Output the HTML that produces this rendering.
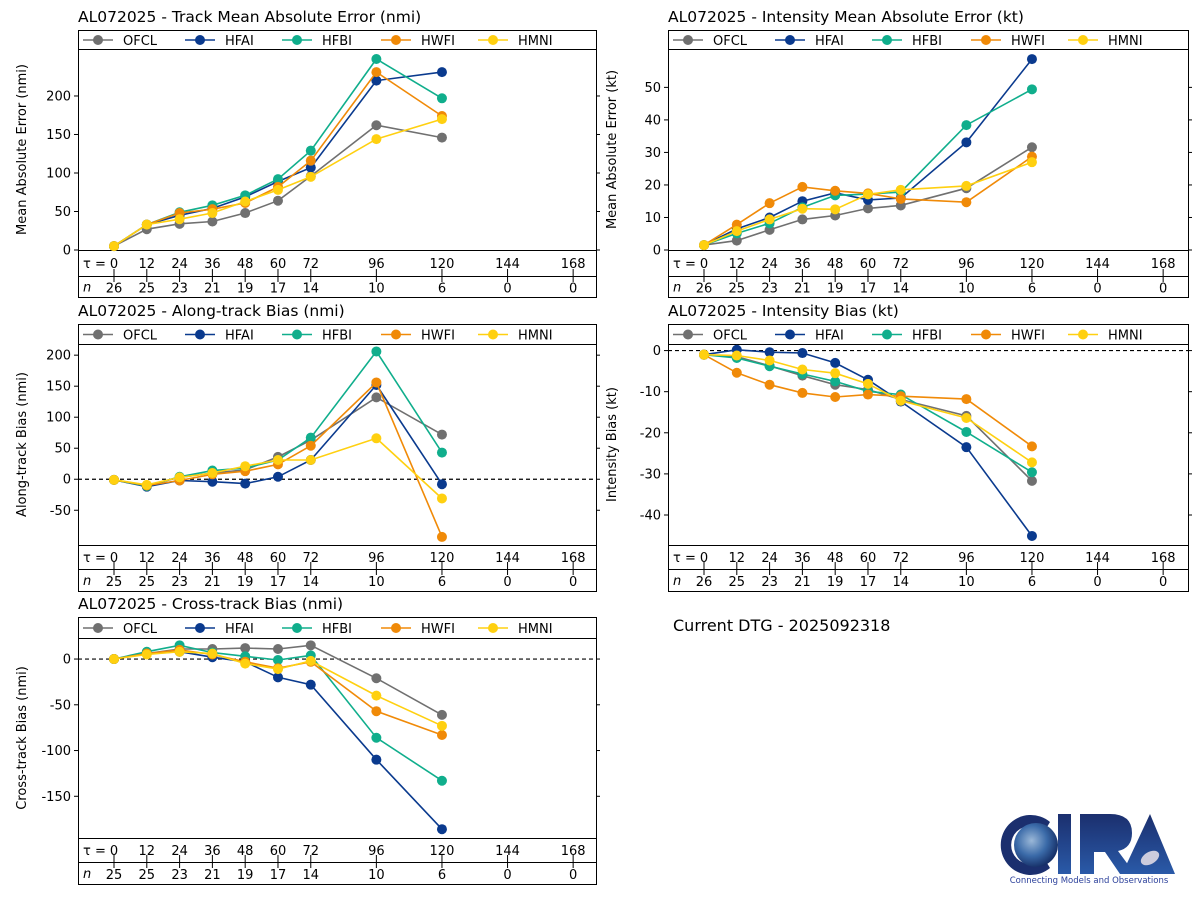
<!DOCTYPE html>
<html><head><meta charset="utf-8">
<style>
html,body{margin:0;padding:0;background:#fff;}
svg{display:block;font-family:"DejaVu Sans","Liberation Sans",sans-serif;}
</style></head>
<body>
<svg id="fig" width="1200" height="900" viewBox="0 0 1200 900" xmlns="http://www.w3.org/2000/svg">
<rect width="1200" height="900" fill="#fff"/>
<text x="673" y="631" font-size="16" fill="#000">Current DTG - 2025092318</text>
<g>
  <defs>
    <radialGradient id="globe" cx="0.4" cy="0.4" r="0.7"><stop offset="0" stop-color="#9bb8d8"/><stop offset="0.5" stop-color="#3a6aa8"/><stop offset="1" stop-color="#0c1f55"/></radialGradient>
    <linearGradient id="letters" x1="0" y1="0" x2="0" y2="1"><stop offset="0" stop-color="#1b2f6e"/><stop offset="1" stop-color="#2a5aa8"/></linearGradient>
  </defs>
  <path d="M1050 822 A30 30 0 1 0 1050 868 L1044 858 A19 19 0 1 1 1044 832 Z" fill="#1b2f6e"/>
  <circle cx="1036" cy="845" r="22" fill="url(#globe)"/>
  <rect x="1058" y="814" width="13" height="60" fill="url(#letters)"/>
  <path d="M1080 814 L1110 814 Q1132 814 1132 833 Q1132 848 1118 851 L1135 874 L1120 874 L1105 852 L1094 852 L1094 874 L1080 874 Z" fill="url(#letters)"/>
  <path d="M1150 814 L1175 874 L1122 874 Z" fill="url(#letters)"/>
  <ellipse cx="1150" cy="858" rx="10" ry="6" fill="#ccd" transform="rotate(-30 1150 858)"/>
  <text x="1089" y="883" font-size="8.5" fill="#2a3f9a" text-anchor="middle">Connecting Models and Observations</text>
</g>
<g id="panels"></g>
</svg>
<script>
const taus = [0,12,24,36,48,60,72,96,120];
const tauTicks = [0,12,24,36,48,60,72,96,120,144,168];
const models = ["OFCL","HFAI","HFBI","HWFI","HMNI"];
const colors = ["#707070","#0a3a8e","#10ae8c","#f08a08","#ffd010"];

const nA = [26,25,23,21,19,17,14,10,6,0,0];
const nB = [25,25,23,21,19,17,14,10,6,0,0];

const trackOFCL = [5,27,34,37,48,64,96,162,146];
const trackHFAI = [5,33,45,54,69,89,107,220,231];
const trackHFBI = [5,33,49,58,71,92,129,248,197];
const trackHWFI = [5,33,48,53,61,82,116,231,174];
const trackHMNI = [5,33,40,48,63,78,95,144,170];

const intOFCL = [1.5,2.9,6.2,9.4,10.6,12.8,13.7,19,31.6];
const intHFAI = [1.5,6.5,10,15,17.6,15.4,16,33.1,58.7];
const intHFBI = [1.5,5.1,8.2,13.1,16.8,17.2,17.8,38.4,49.4];
const intHWFI = [1.5,7.8,14.4,19.4,18.2,17.4,15.7,14.7,28.7];
const intHMNI = [1.5,5.8,9.4,12.7,12.5,17.1,18.5,19.7,27];

const alongOFCL = [-1,-10,3,10,15,36,63,132,72];
const alongHFAI = [-1,-12,-2,-4,-7,4,31,152,-8];
const alongHFBI = [-1,-11,4,14,18,31,67,206,43];
const alongHWFI = [-1,-10,-2,8,13,24,54,156,-93];
const alongHMNI = [-1,-9,3,10,21,31,31,66,-31];

const ibOFCL = [-1,-1.5,-3.7,-6.1,-8.3,-9.5,-11.9,-15.9,-31.7];
const ibHFAI = [-1,0.2,-0.4,-0.6,-3,-7.1,-12.4,-23.5,-45.1];
const ibHFBI = [-1,-1.8,-3.8,-5.7,-7.5,-9.9,-10.7,-19.8,-29.6];
const ibHWFI = [-1,-5.4,-8.3,-10.3,-11.3,-10.7,-11.1,-11.8,-23.3];
const ibHMNI = [-1,-1.2,-2.4,-4.6,-5.5,-8.1,-12.2,-16.4,-27.2];

const crossOFCL = [0,6,11,11,12,11,15,-21,-61];
const crossHFAI = [0,6,8,2,-3,-20,-28,-110,-186];
const crossHFBI = [0,8,15,7,3,-1,4,-86,-133];
const crossHWFI = [0,6,10,5,-3,-10,-3,-57,-83];
const crossHMNI = [0,5,8,6,-5,-11,-2,-40,-73];

const trackTicks = [0,50,100,150,200];
const intTicks = [0,10,20,30,40,50];
const alongTicks = [-50,0,50,100,150,200];
const ibTicks = [-40,-30,-20,-10,0];
const crossTicks = [-150,-100,-50,0];

const NS = "http://www.w3.org/2000/svg";
const root = document.getElementById("panels");
function mk(tag, attrs, parent){
  const e = document.createElementNS(NS, tag);
  for (const k in attrs) e.setAttribute(k, attrs[k]);
  (parent||root).appendChild(e);
  return e;
}

const panels = [
  {name:"track-mae", title:"AL072025 - Track Mean Absolute Error (nmi)", ylabel:"Mean Absolute Error (nmi)",
   bx:78, bw:518, x0:114, top:30, pt:49, pb:250, tb:276, nb:297, ymin:0, ymax:261, ticks:trackTicks,
   series:[trackOFCL,trackHFAI,trackHFBI,trackHWFI,trackHMNI], n:nA, zero:false},
  {name:"intensity-mae", title:"AL072025 - Intensity Mean Absolute Error (kt)", ylabel:"Mean Absolute Error (kt)",
   bx:668, bw:520, x0:704, top:30, pt:49, pb:250, tb:276, nb:297, ymin:0, ymax:61.8, ticks:intTicks,
   series:[intOFCL,intHFAI,intHFBI,intHWFI,intHMNI], n:nA, zero:false},
  {name:"along-track-bias", title:"AL072025 - Along-track Bias (nmi)", ylabel:"Along-track Bias (nmi)",
   bx:78, bw:518, x0:114, top:324, pt:344, pb:545, tb:569, nb:591, ymin:-106, ymax:218, ticks:alongTicks,
   series:[alongOFCL,alongHFAI,alongHFBI,alongHWFI,alongHMNI], n:nB, zero:true},
  {name:"intensity-bias", title:"AL072025 - Intensity Bias (kt)", ylabel:"Intensity Bias (kt)",
   bx:668, bw:520, x0:704, top:324, pt:344, pb:545, tb:569, nb:591, ymin:-47.3, ymax:1.6, ticks:ibTicks,
   series:[ibOFCL,ibHFAI,ibHFBI,ibHWFI,ibHMNI], n:nA, zero:true},
  {name:"cross-track-bias", title:"AL072025 - Cross-track Bias (nmi)", ylabel:"Cross-track Bias (nmi)",
   bx:78, bw:518, x0:114, top:617, pt:638, pb:838, tb:862, nb:884, ymin:-195.6, ymax:23, ticks:crossTicks,
   series:[crossOFCL,crossHFAI,crossHFBI,crossHWFI,crossHMNI], n:nB, zero:true}
];

const KX = 2.733;
panels.forEach(p => {
  const g = mk("g", {});
  
  
  const xs = t => p.x0 + t*KX;
  const ys = v => p.pb - (v - p.ymin)/(p.ymax - p.ymin)*(p.pb - p.pt);
  const R = p.bx + p.bw;

  const title = mk("text", {x:p.bx, y:p.top-8, "font-size":15.5, fill:"#000"}, g);
  title.textContent = p.title;
  
  

  // frames
  const fr = mk("rect", {x:p.bx+0.5, y:p.top+0.5, width:p.bw, height:p.nb-p.top, fill:"none", stroke:"#000", "stroke-width":1}, g);
  
  
  [p.pt, p.pb, p.tb].forEach(yy => mk("line", {x1:p.bx, x2:R+0.5, y1:yy+0.5, y2:yy+0.5, stroke:"#000", "stroke-width":1}, g));

  // y ticks
  p.ticks.forEach(v => {
    const y = ys(v);
    mk("line", {x1:p.bx-4, x2:p.bx, y1:y, y2:y, stroke:"#000"}, g);
    mk("line", {x1:R, x2:R+4, y1:y, y2:y, stroke:"#000"}, g);
    const t = mk("text", {x:p.bx-7, y:y+4.5, "font-size":13, "text-anchor":"end"}, g);
    t.textContent = v;
    
    
  });
  const yl = mk("text", {x:0, y:0, "font-size":13, "text-anchor":"middle",
    transform:`translate(${p.bx-52},${(p.pt+p.pb)/2}) rotate(-90)`}, g);
  yl.textContent = p.ylabel;
  
  

  if (p.zero) {
    const zl = mk("line", {x1:p.bx, x2:R, y1:ys(0), y2:ys(0), stroke:"#000", "stroke-dasharray":"4,3", "stroke-width":1.2}, g);
    
    
  }

  // tau and n rows
  const tl = mk("text", {x:p.bx+5, y:(p.pb+p.tb)/2+5, "font-size":13}, g);
  tl.textContent = "τ =";
  const nl = mk("text", {x:p.bx+5, y:(p.tb+p.nb)/2+5, "font-size":13, "font-style":"italic"}, g);
  nl.textContent = "n";
  tauTicks.forEach((t,i) => {
    const x = xs(t);
    const a = mk("text", {x:x, y:(p.pb+p.tb)/2+5, "font-size":13, "text-anchor":"middle"}, g);
    a.textContent = t;
    
    
    mk("line", {x1:x, x2:x, y1:p.tb-7, y2:p.tb+6, stroke:"#000"}, g);
    const b = mk("text", {x:x, y:(p.tb+p.nb)/2+6, "font-size":13, "text-anchor":"middle"}, g);
    b.textContent = p.n[i];
    
    
  });

  // series
  p.series.forEach((vals, si) => {
    const sg = mk("g", {}, g);
    
    
    const pts = vals.map((v,i) => xs(taus[i]).toFixed(1)+","+ys(v).toFixed(1)).join(" ");
    mk("polyline", {points:pts, fill:"none", stroke:colors[si], "stroke-width":1.6}, sg);
    vals.forEach((v,i) => {
      const c = mk("circle", {cx:xs(taus[i]), cy:ys(v), r:5, fill:colors[si]}, sg);
      
      
    });
  });

  // legend
  const legX = [p.bx+5, p.bx+107, p.bx+204, p.bx+303, p.bx+400];
  const lm = (p.top + p.pt)/2 + 0.5;
  models.forEach((m, i) => {
    const lg = mk("g", {}, g);
    
    
    mk("line", {x1:legX[i], x2:legX[i]+30, y1:lm, y2:lm, stroke:colors[i], "stroke-width":1.6}, lg);
    mk("circle", {cx:legX[i]+15, cy:lm, r:5, fill:colors[i]}, lg);
    const t = mk("text", {x:legX[i]+40, y:lm+5, "font-size":13}, lg);
    t.textContent = m;
  });
});
</script>
</body></html>
